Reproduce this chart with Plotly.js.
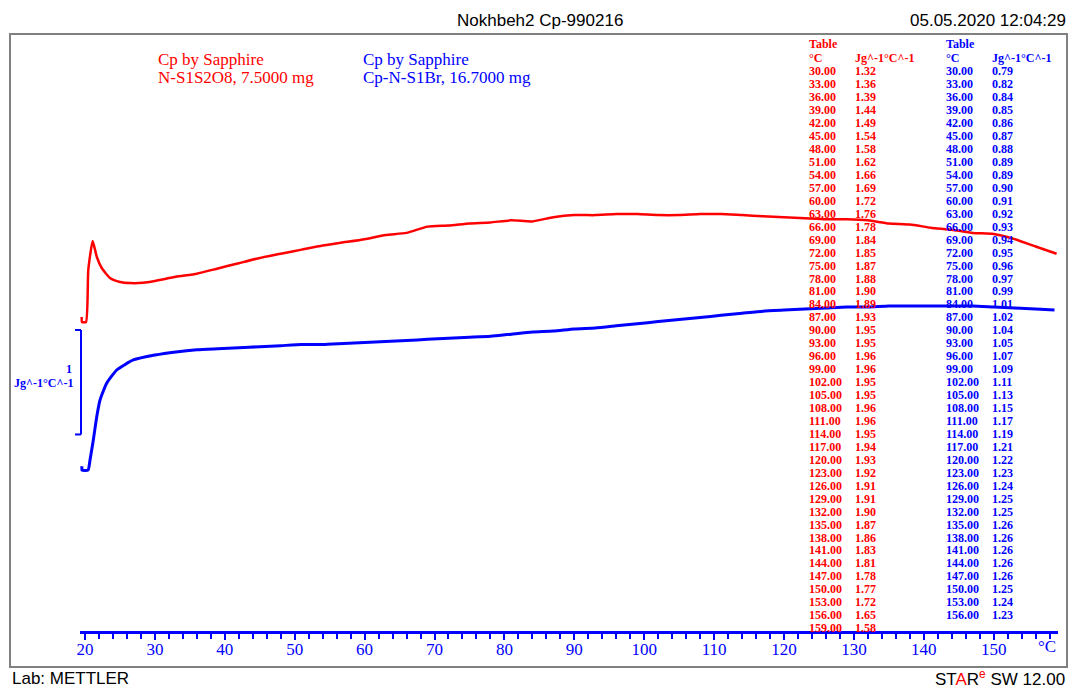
<!DOCTYPE html>
<html>
<head>
<meta charset="utf-8">
<script src="https://cdn.plot.ly/plotly-3.0.1.min.js"></script>
<style>html,body{margin:0;padding:0;background:#fff;}#chart{width:1070px;height:689px;}</style>
</head>
<body>
<div id="chart"></div>
<script>
// ---- Data ----
// Onset part of each curve (before the tabulated range)
const redLeadT  = [19.53, 19.57, 20.14, 20.47, 21.10, 21.68, 22.39, 23.58, 25.01, 26.44, 28.30];
const redLeadCp = [0.975, 0.927, 0.927, 1.425, 1.702, 1.552, 1.444, 1.348, 1.310, 1.300, 1.303];
const blueLeadT  = [19.57, 19.57, 20.43, 20.72, 21.19, 21.68, 22.15, 23.10, 24.54, 26.92];
const blueLeadCp = [-0.274, -0.312, -0.312, -0.214, -0.023, 0.20, 0.36, 0.52, 0.647, 0.743];

// Tabulated values (°C, Jg^-1°C^-1)
const redTableT = [30,33,36,39,42,45,48,51,54,57,60,63,66,69,72,75,78,81,84,87,90,93,96,99,102,105,108,111,114,117,120,123,126,129,132,135,138,141,144,147,150,153,156,159];
const redTableCp = [1.32,1.36,1.39,1.44,1.49,1.54,1.58,1.62,1.66,1.69,1.72,1.76,1.78,1.84,1.85,1.87,1.88,1.90,1.89,1.93,1.95,1.95,1.96,1.96,1.95,1.95,1.96,1.96,1.95,1.94,1.93,1.92,1.91,1.91,1.90,1.87,1.86,1.83,1.81,1.78,1.77,1.72,1.65,1.58];
const blueTableT = [30,33,36,39,42,45,48,51,54,57,60,63,66,69,72,75,78,81,84,87,90,93,96,99,102,105,108,111,114,117,120,123,126,129,132,135,138,141,144,147,150,153,156];
const blueTableCp = [0.79,0.82,0.84,0.85,0.86,0.87,0.88,0.89,0.89,0.90,0.91,0.92,0.93,0.94,0.95,0.96,0.97,0.99,1.01,1.02,1.04,1.05,1.07,1.09,1.11,1.13,1.15,1.17,1.19,1.21,1.22,1.23,1.24,1.25,1.25,1.26,1.26,1.26,1.26,1.26,1.25,1.24,1.23];
const blueTailT = [158.7];
const blueTailCp = [1.22];

const xTickVals = [20,30,40,50,60,70,80,90,100,110,120,130,140,150];
const xTickText = ['20','30','40','50','60','70','80','90','100','110','120','130','140','150'];

const redLabel = ['Cp by Sapphire', 'N-S1S2O8, 7.5000 mg'];
const blueLabel = ['Cp by Sapphire', 'Cp-N-S1Br, 16.7000 mg'];
const tableHead = ['Table', '°C', 'Jg^-1°C^-1'];
const chartTitle = 'Nokhbeh2 Cp-990216';
const dateText = '05.05.2020 12:04:29';
const labText = 'Lab: METTLER';
const swText = 'ST<span style="color:#ff0000">A</span>R<sup><span style="color:#ff0000">e</span></sup> SW 12.00';
const scaleValue = '1';
const unitText = 'Jg^-1°C^-1';

// ---- Layout geometry (pixels) ----
const W = 1070, H = 689;
const L = 80, R = 12, T = 34, B = 58;
const PW = W - L - R, PH = H - T - B;
const px = x => (x - L) / PW;
const py = y => (H - B - y) / PH;

const RED = '#ff0000', BLUE = '#0000ff';
const serif = 'Liberation Serif, Times New Roman, serif';
const sans = 'Liberation Sans, Arial, sans-serif';

const traces = [
  {
    x: redLeadT.concat(redTableT), y: redLeadCp.concat(redTableCp),
    type: 'scatter', mode: 'lines', yaxis: 'y2',
    line: {color: RED, width: 2.5, shape: 'spline', smoothing: 0.5},
    hoverinfo: 'skip'
  },
  {
    x: blueLeadT.concat(blueTableT, blueTailT), y: blueLeadCp.concat(blueTableCp, blueTailCp),
    type: 'scatter', mode: 'lines', yaxis: 'y',
    line: {color: BLUE, width: 3, shape: 'spline', smoothing: 0.5},
    hoverinfo: 'skip'
  }
];

const ann = [];
function txt(text, x, y, opts) {
  ann.push(Object.assign({
    text: text, xref: 'paper', yref: 'paper', x: px(x), y: py(y),
    xanchor: 'left', yanchor: 'middle', showarrow: false,
    font: {family: serif, size: 12, color: '#000'}
  }, opts || {}));
}
// Header and footer
txt(chartTitle, 540, 20, {xanchor: 'center', font: {family: sans, size: 17, color: '#000'}});
txt(dateText, 1068, 20, {xanchor: 'right', font: {family: sans, size: 17, color: '#000'}});
txt(labText, 10, 678, {font: {family: sans, size: 17, color: '#000'}});
txt(swText, 1067, 678, {xanchor: 'right', font: {family: sans, size: 17, color: '#000'}});
// Curve labels
txt(redLabel[0], 156, 59, {font: {family: serif, size: 17, color: RED}});
txt(redLabel[1], 156, 77, {font: {family: serif, size: 17, color: RED}});
txt(blueLabel[0], 361, 59, {font: {family: serif, size: 17, color: BLUE}});
txt(blueLabel[1], 361, 77, {font: {family: serif, size: 17, color: BLUE}});
// Scale bar labels
txt('<b>' + scaleValue + '</b>', 74, 369, {xanchor: 'right', font: {family: serif, size: 12, color: BLUE}});
txt('<b>' + unitText + '</b>', 75, 383, {xanchor: 'right', font: {family: serif, size: 12, color: BLUE}});
// °C unit on x axis
txt('°C', 1047, 646, {xanchor: 'center', font: {family: serif, size: 17, color: BLUE}});

// Tables
function table(tArr, vArr, xT, xV, color) {
  const f = {family: serif, size: 12, color: color};
  txt('<b>' + tableHead[0] + '</b>', xT, 44, {font: f});
  txt('<b>' + tableHead[1] + '</b>', xT, 57.5, {font: f});
  txt('<b>' + tableHead[2] + '</b>', xV, 57.5, {font: f});
  const y0 = 71.3, dy = 12.95;
  for (let i = 0; i < tArr.length; i++) {
    txt('<b>' + tArr[i].toFixed(2) + '</b>', xT, y0 + i * dy, {font: f});
    txt('<b>' + vArr[i].toFixed(2) + '</b>', xV, y0 + i * dy, {font: f});
  }
}
table(redTableT, redTableCp, 807, 853, RED);
table(blueTableT, blueTableCp, 944, 990, BLUE);

const shapes = [
  // outer grey frame
  {type: 'rect', xref: 'paper', yref: 'paper', x0: px(10), x1: px(1067), y0: py(34), y1: py(667),
   line: {color: '#808080', width: 2}, fillcolor: 'rgba(0,0,0,0)', layer: 'below'},
  // scale bar (1 unit on the blue axis)
  {type: 'line', xref: 'paper', yref: 'y', x0: px(81), x1: px(81), y0: 0.03, y1: 1.03, line: {color: BLUE, width: 2}},
  {type: 'line', xref: 'paper', yref: 'y', x0: px(75), x1: px(81), y0: 0.03, y1: 0.03, line: {color: BLUE, width: 2}},
  {type: 'line', xref: 'paper', yref: 'y', x0: px(75), x1: px(81), y0: 1.03, y1: 1.03, line: {color: BLUE, width: 2}}
];

const pxPerUnit = 104.5;
const blueZero = 437.6, redZero = 418.9;
const layout = {
  width: W, height: H,
  margin: {l: L, r: R, t: T, b: B, pad: 0},
  paper_bgcolor: '#ffffff', plot_bgcolor: 'rgba(0,0,0,0)',
  showlegend: false,
  xaxis: {
    range: [20 + (L - 85) / 6.99, 20 + (W - R - 85) / 6.99],
    showgrid: false, zeroline: false,
    showline: true, linecolor: BLUE, linewidth: 3,
    ticks: 'outside', tickcolor: BLUE, ticklen: 6, tickwidth: 2,
    ticklabelstandoff: -5,
    tickvals: xTickVals, ticktext: xTickText,
    tickfont: {family: serif, size: 17, color: BLUE},
    minor: {dtick: 2, tick0: 20, ticks: 'outside', ticklen: 5, tickcolor: BLUE, tickwidth: 2, showgrid: false},
    fixedrange: true
  },
  yaxis: {
    range: [-(H - B - blueZero) / pxPerUnit, (blueZero - T) / pxPerUnit],
    visible: false, showgrid: false, zeroline: false, fixedrange: true
  },
  yaxis2: {
    range: [-(H - B - redZero) / pxPerUnit, (redZero - T) / pxPerUnit],
    overlaying: 'y', visible: false, showgrid: false, zeroline: false, fixedrange: true
  },
  annotations: ann,
  shapes: shapes
};

Plotly.newPlot('chart', traces, layout, {displayModeBar: false, staticPlot: true});
</script>
</body>
</html>
